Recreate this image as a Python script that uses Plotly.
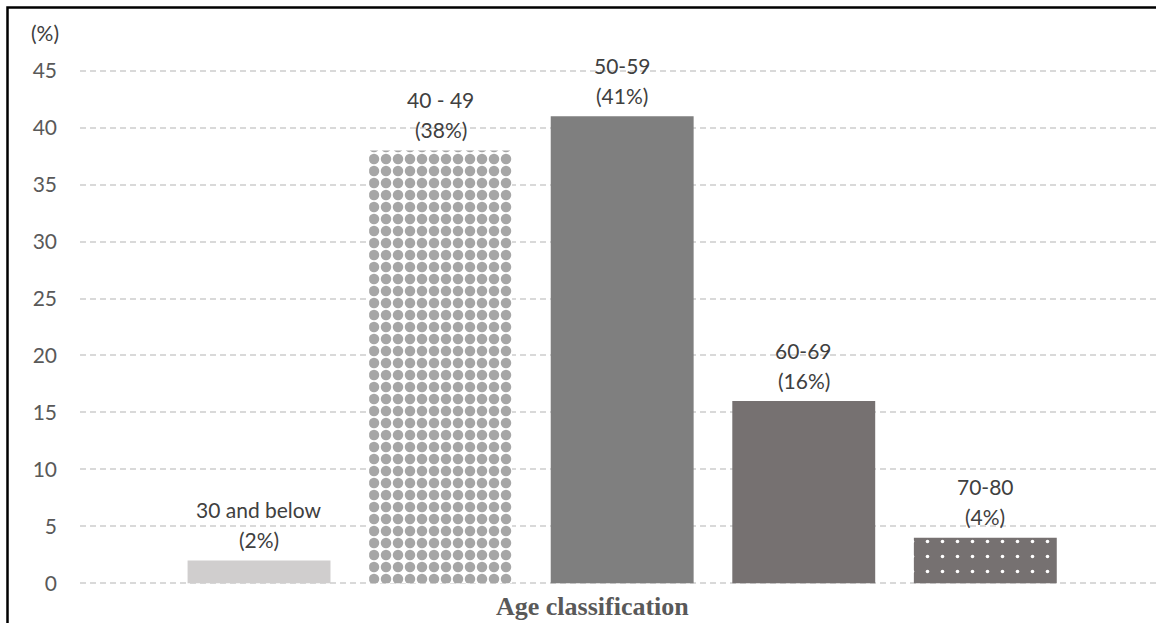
import plotly.graph_objects as go

# Age groups and their share of respondents (%)
age_groups = ["30 and below", "40 - 49", "50-59", "60-69", "70-80"]
shares = [2, 38, 41, 16, 4]
y_ticks = [0, 5, 10, 15, 20, 25, 30, 35, 40, 45]

W, H = 1156, 623
L, R, T, B = 80, 0, 69, 38
pw, ph = W - L - R, H - T - B
Y_RANGE = [-0.15, 45.15]

def px_x(p):
    return (p - L) / pw

def px_y(p):
    return (H - B - p) / ph

fills = ["#d0cece", "#ffffff", "#7f7f7f", "#767171", "#767171"]
patterns = [
    dict(shape=""),
    dict(shape=".", fgcolor="#a6a6a6", bgcolor="#ffffff", size=12, solidity=0.6, fillmode="replace"),
    dict(shape=""),
    dict(shape=""),
    dict(shape=".", fgcolor="#ffffff", bgcolor="#767171", size=15, solidity=0.045, fillmode="replace"),
]

fig = go.Figure()
xs = list(range(len(age_groups)))
for i, (g, v) in enumerate(zip(age_groups, shares)):
    fig.add_trace(go.Bar(
        x=[xs[i]], y=[v], width=0.787, name=g,
        marker=dict(color=fills[i], line=dict(width=0), pattern=patterns[i]),
        hoverinfo="skip",
    ))

label_font = dict(family="Lato", size=21, color="#404040")
for i, (g, v) in enumerate(zip(age_groups, shares)):
    fig.add_annotation(x=xs[i], y=v, text=g, showarrow=False, yanchor="middle",
                       yshift=51, font=label_font)
    fig.add_annotation(x=xs[i], y=v, text=f"({v}%)", showarrow=False, yanchor="middle",
                       yshift=21, font=label_font)

fig.add_annotation(xref="paper", yref="paper", x=px_x(45), y=px_y(32), text="(%)",
                   showarrow=False, xanchor="center", yanchor="middle",
                   font=dict(family="Lato", size=21, color="#404040"))
fig.add_annotation(xref="paper", yref="paper", x=px_x(592), y=px_y(606),
                   text="<b>Age classification</b>", showarrow=False,
                   xanchor="center", yanchor="middle",
                   font=dict(family="Liberation Serif", size=26, color="#595959"))

# outer frame (left and top edges visible)
fig.add_shape(type="rect", xref="paper", yref="paper",
              x0=px_x(7.5), x1=px_x(1300), y0=px_y(700), y1=px_y(7.5),
              line=dict(color="#000000", width=2.5), fillcolor="rgba(0,0,0,0)", layer="above")

fig.update_layout(
    width=W, height=H,
    margin=dict(l=L, r=R, t=T, b=B, pad=0),
    paper_bgcolor="#ffffff", plot_bgcolor="#ffffff",
    showlegend=False, barmode="overlay",
    xaxis=dict(range=[-0.986, 4.94], showticklabels=False, showgrid=False,
               zeroline=False, showline=False, ticks=""),
    yaxis=dict(range=Y_RANGE, tickvals=y_ticks, showgrid=True,
               gridcolor="#d9d9d9", gridwidth=1.5, griddash="6px,4px",
               zeroline=False, showline=False, ticks="", ticklabelstandoff=22,
               tickfont=dict(family="Lato", size=21, color="#595959")),
)

fig.write_html("out.html")
